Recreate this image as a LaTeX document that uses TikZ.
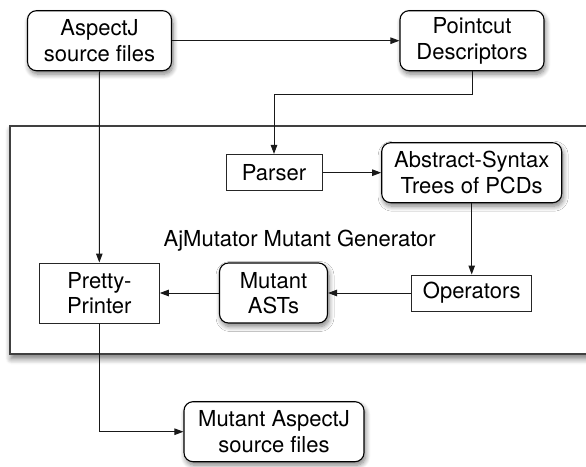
\documentclass[tikz,border=0pt]{standalone}
\usepackage{fontspec}
\setmainfont{TeX Gyre Heros}
\usetikzlibrary{arrows.meta,shadows.blur}
\begin{document}
\begin{tikzpicture}[x=1pt,y=-1pt,
  every node/.style={font=\fontsize{22}{25.5}\selectfont, align=center, inner sep=0pt},
  rbox/.style={draw=black, line width=1.1pt, rounded corners=9pt, fill=white, minimum width=144pt, minimum height=60pt,
    blur shadow={shadow xshift=1.5pt, shadow yshift=-3.5pt, shadow blur radius=5pt, shadow blur steps=8, shadow opacity=50}},
  sbox/.style={draw=black!85, line width=1pt, fill=white, minimum width=120pt},
  conn/.style={draw=black!90, line width=1pt, -{Triangle[length=9pt,width=6.5pt]}}
]
\useasboundingbox (0,0) rectangle (586,466);
\begin{scope}
\clip (0,0) rectangle (586,466);
\node[draw=black!75, line width=2pt, fill=white, minimum width=600pt, minimum height=228pt, anchor=north west,
  blur shadow={shadow xshift=1pt, shadow yshift=-5pt, shadow blur radius=6pt, shadow blur steps=8, shadow opacity=55}]
  (frame) at (9.3,124.5) {};
\end{scope}
\node (lbl) at (299.7,241) {AjMutator Mutant Generator};

\node[rbox] (aj) at (99.5,40.7) {AspectJ\\source files};
\node[rbox] (pc) at (472,40.7) {Pointcut\\Descriptors};
\node[sbox, minimum width=96pt, minimum height=36.5pt] (parser) at (274,172.7) {Parser};
\node[rbox, minimum width=180pt] (ast) at (471.7,172.7) {Abstract-Syntax\\Trees of PCDs};
\node[sbox, minimum height=60pt] (pp) at (99.3,293) {Pretty-\\Printer};
\node[rbox, minimum width=108pt] (mast) at (273.5,293) {Mutant\\ASTs};
\node[sbox, minimum height=36pt] (ops) at (471.7,293) {Operators};
\node[rbox, minimum width=180pt] (maj) at (274,431.7) {Mutant AspectJ\\source files};

\coordinate (bend) at (472,94.3);
\draw[conn] (aj.east) -- (pc.west);
\draw[conn] (pc.south) -- (bend) -| (parser.north);
\draw[conn] (aj.south) -- (pp.north);
\draw[conn] (parser.east) -- (ast.west);
\draw[conn] (ast.south) -- (ops.north);
\draw[conn] (ops.west) -- (mast.east);
\draw[conn] (mast.west) -- (pp.east);
\draw[conn] (pp.south) |- (maj.west);
\end{tikzpicture}
\end{document}
